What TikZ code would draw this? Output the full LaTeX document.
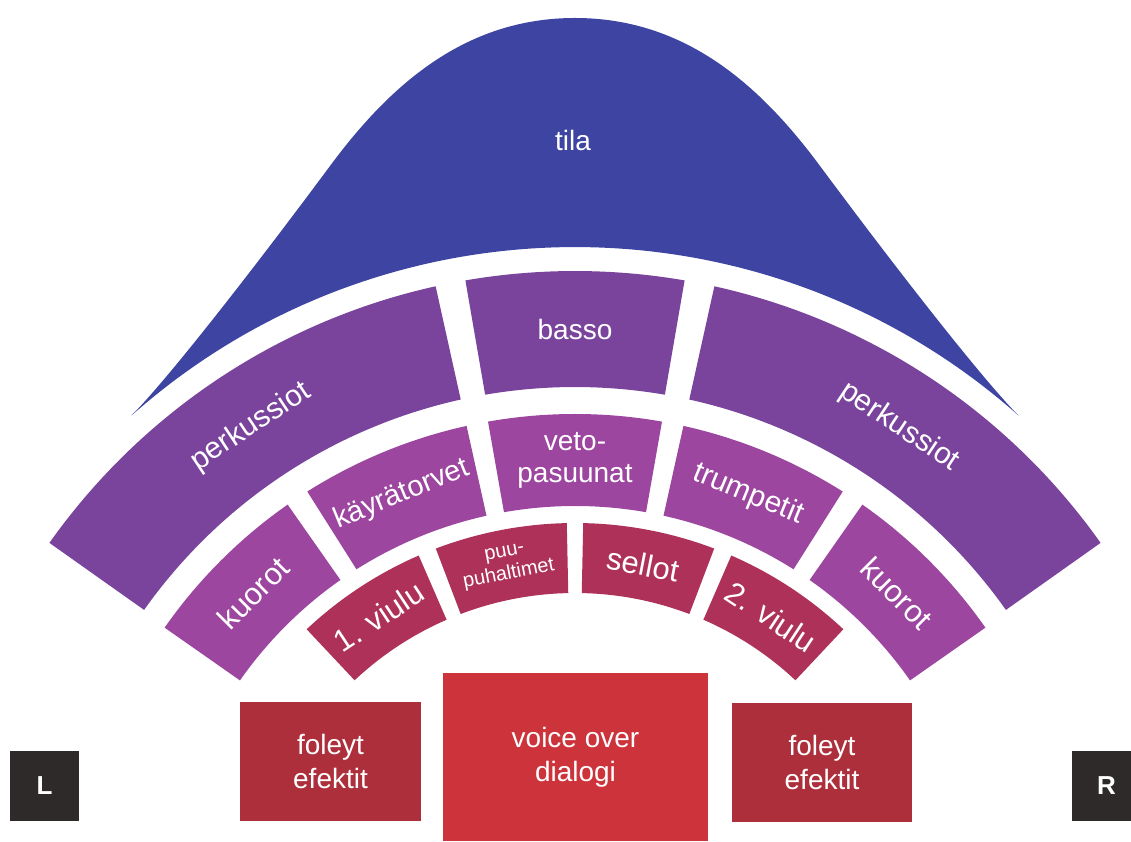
\documentclass[tikz,border=0pt]{standalone}
\usepackage{fontspec}
\setmainfont{Liberation Sans}
\definecolor{cTila}{HTML}{3D44A1}
\definecolor{cOuter}{HTML}{7A449D}
\definecolor{cMid}{HTML}{9C46A0}
\definecolor{cInner}{HTML}{AE3159}
\definecolor{cFoley}{HTML}{AD2F3B}
\definecolor{cVoice}{HTML}{CC333B}
\definecolor{cLR}{HTML}{2E2A2A}
\newcommand\ringsector[5]{\fill[#5] (#1:#4) arc[start angle=#1,end angle=#2,radius=#4] -- (#2:#3) arc[start angle=#2,end angle=#1,radius=#3] -- cycle;}
\begin{document}
\begin{tikzpicture}[x=1pt,y=1pt,
  lab/.style={text=white,inner sep=0pt,align=center,font=\fontsize{28}{34}\selectfont},
  big/.style={lab,font=\fontsize{31}{36}\selectfont},
  small/.style={lab,font=\fontsize{20}{23}\selectfont},
  boxnode/.style={lab,minimum width=#1,minimum height=119pt},
  lrnode/.style={text=white,fill=cLR,inner sep=0pt,minimum width=69pt,minimum height=70pt,font=\bfseries\fontsize{26}{30}\selectfont}]
\clip (0,0) rectangle (1131,841);
% tila
\coordinate (tipL) at (131.5,425.5);
\coordinate (tipR) at (1018.5,425.5);
\coordinate (peak) at (575,823);
\fill[cTila] (tipL) .. controls (171.5,465.5) and (270,594) .. (330,675)
  .. controls (390,756) and (465,823) .. (peak)
  .. controls (685,823) and (760,756) .. (820,675)
  .. controls (880,594) and (978.5,465.5) .. (tipR)
  arc[start angle=48.4,end angle=131.6,radius=668] -- cycle;
\node[lab] (tila) at (573,701) {tila};
\begin{scope}[shift={(575,-74)}]
% outer row
\ringsector{102.5}{144.7}{528}{644}{cOuter}
\ringsector{80.2}{99.8}{528}{644}{cOuter}
\ringsector{35.3}{77.5}{528}{644}{cOuter}
% middle row
\ringsector{125}{145}{409}{501}{cMid}
\ringsector{102.5}{122.3}{409}{501}{cMid}
\ringsector{80}{100}{409}{501}{cMid}
\ringsector{57.7}{77.5}{409}{501}{cMid}
\ringsector{35}{55}{409}{501}{cMid}
% inner row
\ringsector{113.5}{133.2}{322}{392}{cInner}
\ringsector{91.2}{110.8}{322}{392}{cInner}
\ringsector{69.2}{88.8}{322}{392}{cInner}
\ringsector{46.8}{66.5}{322}{392}{cInner}
% labels
\node[lab,font=\fontsize{30}{34}\selectfont,rotate=33.6] (perkL) at (123.6:586) {perkussiot};
\node[lab] (basso) at (90:586) {basso};
\node[lab,font=\fontsize{30}{34}\selectfont,rotate=-33.6] (perkR) at (56.4:586) {perkussiot};
\node[big,rotate=45] (kuorL) at (135:455) {kuorot};
\node[lab,font=\fontsize{29}{34}\selectfont,rotate=22.4] (kayra) at (112.4:455) {käyrätorvet};
\node[lab,font=\fontsize{28}{32}\selectfont] (veto) at (90:455) {veto-\\pasuunat};
\node[lab,font=\fontsize{30}{34}\selectfont,rotate=-22.4] (trump) at (67.6:455) {trumpetit};
\node[big,rotate=-45] (kuorR) at (45:455) {kuorot};
\node[big,rotate=33.35] (viulu1) at (123.35:357) {1. viulu};
\node[small,rotate=11] (puu) at (101:357) {puu-\\puhaltimet};
\node[big,rotate=-11] (sellot) at (79:357) {sellot};
\node[big,rotate=-33.35] (viulu2) at (56.65:357) {2. viulu};
\end{scope}
% bottom boxes
\node[boxnode=181pt,fill=cFoley] (foleyL) at (330.5,79.5) {foleyt\\efektit};
\node[lab,fill=cVoice,minimum width=265pt,minimum height=168pt] (voice) at (575.5,84) {voice over\\dialogi};
\node[boxnode=180pt,fill=cFoley] (foleyR) at (822,79) {foleyt\\efektit};
\node[lrnode] (L) at (44.5,55) {L};
\node[lrnode] (R) at (1106.5,55) {R};
\end{tikzpicture}
\end{document}
